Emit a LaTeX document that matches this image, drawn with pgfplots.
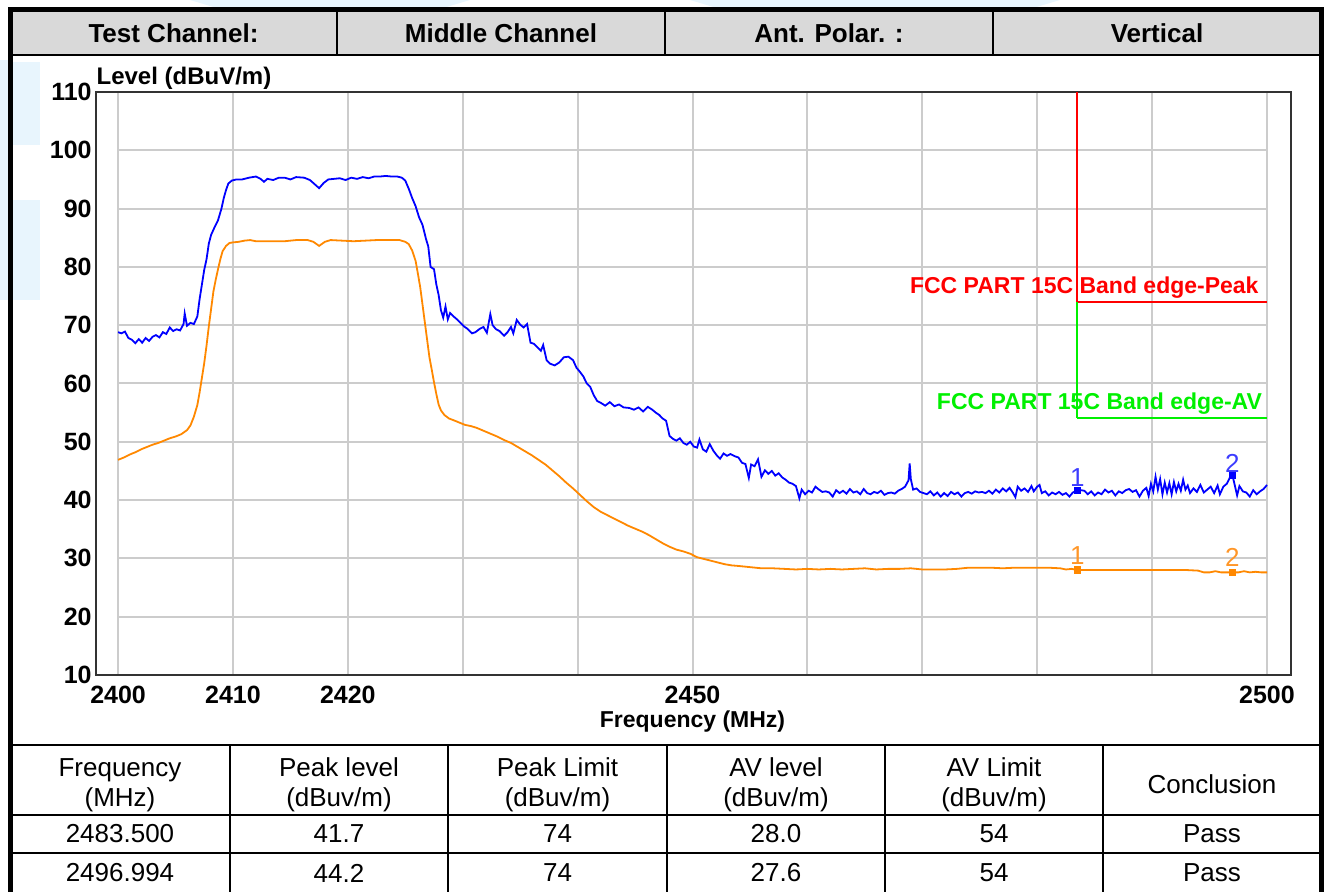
\documentclass[border=0pt]{standalone}
\usepackage{fontspec}
\setmainfont{Liberation Sans}
\usepackage{pgfplots}
\pgfplotsset{compat=1.18}
\definecolor{trblue}{RGB}{0,0,255}
\definecolor{trorange}{RGB}{255,136,0}
\definecolor{gridgray}{RGB}{204,204,204}
\definecolor{hdrgray}{RGB}{217,217,217}
\definecolor{limred}{RGB}{255,0,0}
\definecolor{limgreen}{RGB}{0,240,0}
\definecolor{wm}{RGB}{232,245,253}
\definecolor{lblblue}{RGB}{60,60,255}
\definecolor{lblorange}{RGB}{255,150,40}
\begin{document}
\begin{tikzpicture}
\path[use as bounding box] (0,0) rectangle (663.5pt,446pt);
\begin{scope}[yshift=446pt,x=0.5pt,y=-0.5pt]
  % faint watermark pieces
  \fill[wm] (190,0) -- (470,0) -- (440,9) -- (220,9) -- cycle;
  \fill[wm] (690,0) -- (1060,0) -- (1030,9) -- (720,9) -- cycle;
  \fill[wm] (0,60) rectangle (8,300);
  \fill[wm] (13,62) rectangle (40,145);
  \fill[wm] (13,200) rectangle (40,300);
  % header row
  \fill[hdrgray] (10,10) rectangle (1321,55);
  \draw[line width=1.2pt] (10,55) -- (1321,55);
  \foreach \xx in {337,665,993} \draw[line width=1pt] (\xx,10) -- (\xx,55);
  \node[font=\fontsize{13}{13}\selectfont\bfseries] at (173.5,33) {Test Channel:};
  \node[font=\fontsize{13}{13}\selectfont\bfseries] at (501,33) {Middle Channel};
  \node[font=\fontsize{13}{13}\selectfont\bfseries] at (829,33) {Ant. Polar. :};
  \node[font=\fontsize{13}{13}\selectfont\bfseries] at (1157,33) {Vertical};
  % bottom table
  \draw[line width=1.2pt] (10,745) -- (1321,745);
  \draw[line width=1.2pt] (10,815) -- (1321,815);
  \draw[line width=1.2pt] (10,853) -- (1321,853);
  \foreach \xx in {230,448,667,885,1103} \draw[line width=1pt] (\xx,745) -- (\xx,892);
  \begin{scope}[every node/.style={font=\fontsize{13}{15}\selectfont, align=center}]
    \node at (120,785) {Frequency\\(MHz)};
    \node at (339,785) {Peak level\\(dBuv/m)};
    \node at (557.5,785) {Peak Limit\\(dBuv/m)};
    \node at (776,785) {AV level\\(dBuv/m)};
    \node at (994,785) {AV Limit\\(dBuv/m)};
    \node at (1212,784) {Conclusion};
    \node at (120,834) {2483.500};
    \node at (339,834) {41.7};
    \node at (557.5,834) {74};
    \node at (776,834) {28.0};
    \node at (994,834) {54};
    \node at (1212,834) {Pass};
    \node at (120,873) {2496.994};
    \node at (339,873) {44.2};
    \node at (557.5,873) {74};
    \node at (776,873) {27.6};
    \node at (994,873) {54};
    \node at (1212,873) {Pass};
  \end{scope}
  % outer border
  \draw[line width=2.5pt] (10,893) -- (10,10) -- (1321,10) -- (1321,893);
\end{scope}

\begin{axis}[
  at={(48pt,108.5pt)}, anchor=south west,
  scale only axis, width=597.5pt, height=291.5pt,
  xmin=2398.08, xmax=2502.09, ymin=10, ymax=110,
  axis line style={black!80, line width=1pt},
  xtick={2400,2410,2420,2430,2440,2450,2460,2470,2480,2490,2500},
  xticklabels={2400,2410,2420,,,2450,,,,,2500},
  ytick={10,20,30,40,50,60,70,80,90,100,110},
  major tick length=0pt,
  xmajorgrids, grid style={gridgray, line width=1pt},
  /pgf/number format/assume math mode=true,
  ticklabel style={font=\fontsize{12.5}{12.5}\selectfont\bfseries},
  yticklabel style={inner xsep=2pt},
  xticklabel style={yshift=-2pt},
  clip=false,
]
\pgfplotsinvokeforeach{20,30,40,50,60,70,80,90,100}{
  \draw[gridgray, line width=1pt] (axis cs:2400,#1) -- (axis cs:2500,#1);
}
\node[anchor=base west, inner sep=0pt, font=\fontsize{12}{12}\selectfont\bfseries] at (axis cs:2398.1,111.3) {Level (dBuV/m)};
\node[anchor=north, inner sep=0pt, font=\fontsize{11.5}{11.5}\selectfont\bfseries] at (axis cs:2450,4.0) {Frequency (MHz)};

% limit lines
\addplot[draw=limred, line width=1pt] coordinates {(2483.5,110) (2483.5,74)};
\addplot[draw=limred, line width=1pt] coordinates {(2483.5,74) (2500,74)};
\addplot[draw=limgreen, line width=1pt] coordinates {(2483.5,74) (2483.5,54)};
\addplot[draw=limgreen, line width=1pt] coordinates {(2483.5,54) (2500,54)};
\node[anchor=east, inner sep=0pt, text=limred, font=\fontsize{11.5}{11.5}\selectfont\bfseries] at (axis cs:2499.3,76.5) {FCC PART 15C Band edge-Peak};
\node[anchor=east, inner sep=0pt, text=limgreen, font=\fontsize{11.5}{11.5}\selectfont\bfseries] at (axis cs:2499.6,56.5) {FCC PART 15C Band edge-AV};

% peak trace
\addplot[trblue, line width=0.9pt] table {
x y
2400.0 68.8
2400.3 68.6
2400.6 68.9
2400.9 67.8
2401.2 67.5
2401.5 66.9
2401.8 67.6
2402.1 67.0
2402.4 67.8
2402.7 67.3
2403.0 68.0
2403.3 68.3
2403.6 67.9
2403.9 68.8
2404.2 68.5
2404.5 69.6
2404.8 69.0
2405.1 69.3
2405.4 69.1
2405.7 70.2
2405.8 72.0
2406.0 69.9
2406.3 70.4
2406.6 70.2
2406.9 71.5
2407.1 74.5
2407.3 77.0
2407.5 79.5
2407.7 81.3
2407.9 84.0
2408.1 85.5
2408.4 86.8
2408.7 88.0
2409.0 90.0
2409.2 91.8
2409.4 93.2
2409.6 94.3
2409.9 94.8
2410.3 95.0
2410.8 95.0
2411.4 95.3
2412.0 95.5
2412.4 95.1
2412.7 94.6
2413.0 95.1
2413.5 94.9
2414.0 95.3
2414.5 95.3
2415.0 95.0
2415.5 95.4
2416.2 95.3
2416.7 94.9
2417.1 94.2
2417.5 93.5
2417.9 94.4
2418.3 95.0
2418.8 95.1
2419.3 95.2
2419.8 94.9
2420.3 95.3
2420.8 95.1
2421.3 95.4
2421.8 95.2
2422.3 95.5
2422.8 95.5
2423.3 95.6
2423.8 95.5
2424.3 95.5
2424.7 95.3
2425.0 94.8
2425.3 93.4
2425.6 91.8
2425.9 90.4
2426.2 88.5
2426.5 87.2
2426.8 84.8
2427.0 83.5
2427.2 80.0
2427.5 79.6
2427.7 77.0
2427.9 75.2
2428.1 72.6
2428.3 71.3
2428.5 73.2
2428.7 71.0
2428.9 72.1
2429.2 71.5
2429.5 71.0
2429.8 70.4
2430.1 69.8
2430.4 69.4
2430.8 68.6
2431.1 68.8
2431.5 69.4
2431.8 69.7
2432.1 68.7
2432.4 71.9
2432.6 70.0
2432.9 69.3
2433.2 69.0
2433.6 68.2
2433.9 68.8
2434.2 69.7
2434.4 68.6
2434.7 70.9
2435.0 70.1
2435.3 69.6
2435.6 70.2
2435.9 67.0
2436.2 66.8
2436.5 66.2
2436.8 65.6
2437.0 66.6
2437.3 64.0
2437.6 63.4
2438.0 63.1
2438.4 63.6
2438.8 64.5
2439.2 64.6
2439.6 64.0
2439.9 62.7
2440.2 62.0
2440.5 61.2
2440.8 60.0
2441.1 59.4
2441.4 58.0
2441.7 57.0
2442.0 56.7
2442.4 56.2
2442.8 56.8
2443.2 56.1
2443.6 56.4
2444.0 55.9
2444.5 55.8
2444.9 55.5
2445.3 55.9
2445.7 55.2
2446.1 56.0
2446.5 55.5
2446.8 55.0
2447.1 54.6
2447.4 54.0
2447.7 53.6
2448.0 51.0
2448.3 50.5
2448.6 50.2
2448.9 50.6
2449.2 49.8
2449.5 49.5
2449.8 50.0
2450.1 49.2
2450.4 49.0
2450.6 50.4
2450.9 48.7
2451.2 48.3
2451.5 49.6
2451.8 48.5
2452.1 47.7
2452.4 47.1
2452.7 48.0
2453.0 47.6
2453.3 47.9
2453.7 47.5
2454.0 47.3
2454.3 46.4
2454.6 46.2
2454.9 43.8
2455.1 46.1
2455.4 45.8
2455.7 47.0
2456.0 44.0
2456.3 45.1
2456.6 44.5
2456.9 45.0
2457.2 44.2
2457.5 44.6
2457.8 43.9
2458.1 43.5
2458.4 43.0
2458.7 42.8
2459.0 42.4
2459.3 40.3
2459.5 41.8
2459.8 41.0
2460.1 41.6
2460.4 41.3
2460.7 42.3
2461.0 41.8
2461.3 41.4
2461.6 41.5
2461.9 41.3
2462.2 40.6
2462.5 41.7
2462.8 41.2
2463.1 41.6
2463.4 41.1
2463.7 41.9
2464.0 41.3
2464.3 41.5
2464.6 41.0
2464.9 41.9
2465.2 41.2
2465.5 41.0
2465.8 41.4
2466.1 41.2
2466.4 41.6
2466.7 40.9
2467.0 41.2
2467.3 41.3
2467.6 41.1
2467.9 41.6
2468.2 41.9
2468.5 42.3
2468.8 43.4
2468.9 46.3
2469.0 43.6
2469.2 41.8
2469.5 42.0
2469.8 41.4
2470.1 41.2
2470.4 41.0
2470.7 41.5
2471.0 40.8
2471.3 41.3
2471.6 40.6
2471.9 41.2
2472.2 40.7
2472.5 41.4
2472.8 41.0
2473.1 41.3
2473.4 40.6
2473.7 41.2
2474.0 41.4
2474.3 41.1
2474.6 41.5
2474.9 41.3
2475.2 41.4
2475.5 41.2
2475.8 41.6
2476.1 41.1
2476.4 41.8
2476.7 41.3
2477.0 42.0
2477.3 41.5
2477.6 42.1
2477.9 41.2
2478.1 40.5
2478.3 42.3
2478.6 41.6
2478.9 42.0
2479.2 41.4
2479.5 42.4
2479.7 41.5
2480.0 42.3
2480.2 42.6
2480.4 41.2
2480.7 41.5
2481.0 40.8
2481.3 41.3
2481.6 41.0
2481.9 41.4
2482.2 40.9
2482.5 41.2
2482.8 40.6
2483.1 41.3
2483.5 41.7
2483.8 41.7
2484.1 41.6
2484.4 41.0
2484.7 41.5
2485.0 40.8
2485.3 41.3
2485.6 41.0
2485.9 41.8
2486.2 41.3
2486.5 41.6
2486.8 40.8
2487.1 41.5
2487.4 41.2
2487.7 41.7
2488.0 41.9
2488.3 41.4
2488.6 41.7
2488.9 40.6
2489.2 41.6
2489.5 42.1
2489.7 40.7
2489.9 42.8
2490.1 41.5
2490.3 44.0
2490.5 41.8
2490.7 43.6
2490.9 41.0
2491.1 43.0
2491.3 41.3
2491.5 42.9
2491.7 41.0
2491.9 43.1
2492.1 41.5
2492.3 42.8
2492.5 41.6
2492.7 43.5
2492.9 41.8
2493.1 42.5
2493.3 41.2
2493.6 42.0
2493.9 41.4
2494.2 42.6
2494.5 41.3
2494.8 41.8
2495.1 42.3
2495.4 41.2
2495.7 42.5
2495.9 41.0
2496.2 42.3
2496.5 42.8
2496.8 44.0
2497.0 44.2
2497.2 42.5
2497.4 40.8
2497.6 42.4
2497.9 41.5
2498.2 41.3
2498.5 40.6
2498.8 41.7
2499.1 41.0
2499.4 41.5
2499.7 41.9
2500.0 42.6
};

% average trace
\addplot[trorange, line width=0.9pt] table {
x y
2400.0 46.9
2400.5 47.3
2401.0 47.8
2401.5 48.2
2402.0 48.7
2402.5 49.1
2403.0 49.5
2403.5 49.8
2404.0 50.2
2404.5 50.6
2405.0 50.9
2405.5 51.3
2406.0 52.0
2406.3 52.8
2406.6 54.3
2406.9 56.3
2407.1 58.5
2407.3 61.0
2407.5 63.5
2407.7 66.5
2407.9 69.8
2408.1 72.8
2408.3 75.8
2408.5 77.8
2408.7 79.6
2408.9 81.3
2409.1 82.7
2409.4 83.6
2409.7 84.1
2410.0 84.2
2410.5 84.3
2411.0 84.5
2411.5 84.6
2412.0 84.4
2412.5 84.4
2413.5 84.4
2414.5 84.4
2415.5 84.6
2416.5 84.6
2417.0 84.3
2417.5 83.6
2418.0 84.3
2418.5 84.6
2419.5 84.5
2420.5 84.4
2421.5 84.5
2422.5 84.6
2423.5 84.6
2424.5 84.6
2425.0 84.3
2425.3 83.9
2425.6 82.8
2425.9 81.0
2426.1 78.8
2426.3 76.5
2426.5 73.5
2426.7 70.5
2426.9 67.5
2427.1 64.5
2427.3 62.4
2427.5 60.2
2427.7 58.2
2427.9 56.4
2428.1 55.4
2428.4 54.6
2428.8 54.0
2429.2 53.7
2429.7 53.3
2430.2 52.9
2430.7 52.7
2431.2 52.4
2431.8 51.9
2432.4 51.4
2433.0 50.9
2433.6 50.3
2434.2 49.8
2434.8 49.1
2435.4 48.4
2436.0 47.7
2436.6 46.9
2437.2 46.1
2437.8 45.1
2438.4 44.1
2439.0 43.0
2439.6 42.0
2440.2 40.9
2440.8 39.8
2441.4 38.8
2442.0 38.0
2442.6 37.4
2443.2 36.8
2443.8 36.2
2444.4 35.6
2445.0 35.1
2445.6 34.6
2446.2 34.0
2446.8 33.3
2447.4 32.6
2448.0 32.0
2448.6 31.5
2449.2 31.2
2449.8 30.8
2450.4 30.2
2451.0 29.9
2451.6 29.6
2452.2 29.3
2452.8 29.0
2453.4 28.8
2454.0 28.7
2455.0 28.5
2456.0 28.3
2457.0 28.3
2458.0 28.2
2459.0 28.1
2460.0 28.2
2461.0 28.1
2462.0 28.2
2463.0 28.1
2464.0 28.2
2465.0 28.3
2466.0 28.1
2467.0 28.2
2468.0 28.2
2469.0 28.3
2470.0 28.1
2471.0 28.1
2472.0 28.1
2473.0 28.2
2474.0 28.4
2475.0 28.4
2476.0 28.4
2477.0 28.3
2478.0 28.4
2479.0 28.4
2480.0 28.4
2481.0 28.4
2482.0 28.3
2482.5 28.1
2483.0 28.2
2483.5 28.0
2484.0 28.0
2485.0 28.0
2486.0 28.0
2487.0 28.0
2488.0 28.0
2489.0 28.0
2490.0 28.0
2491.0 28.0
2492.0 28.0
2493.0 28.0
2494.0 27.9
2494.5 27.6
2495.0 27.6
2495.5 27.8
2496.0 27.6
2497.0 27.6
2497.5 27.6
2498.0 27.8
2498.5 27.6
2499.0 27.7
2499.5 27.6
2500.0 27.6
};

% markers
\addplot[only marks, mark=square*, mark size=1.6pt, trblue] coordinates {(2483.5,41.7) (2496.994,44.2)};
\addplot[only marks, mark=square*, mark size=1.6pt, trorange] coordinates {(2483.5,28.0) (2496.994,27.6)};
\node[anchor=south, inner sep=1.5pt, text=lblblue, font=\fontsize{13}{13}\selectfont] at (axis cs:2483.5,41.7) {1};
\node[anchor=south, inner sep=1.5pt, text=lblblue, font=\fontsize{13}{13}\selectfont] at (axis cs:2496.994,44.2) {2};
\node[anchor=south, inner sep=2.5pt, text=lblorange, font=\fontsize{13}{13}\selectfont] at (axis cs:2483.5,28.0) {1};
\node[anchor=south, inner sep=2.5pt, text=lblorange, font=\fontsize{13}{13}\selectfont] at (axis cs:2496.994,27.6) {2};
\end{axis}
\end{tikzpicture}
\end{document}
